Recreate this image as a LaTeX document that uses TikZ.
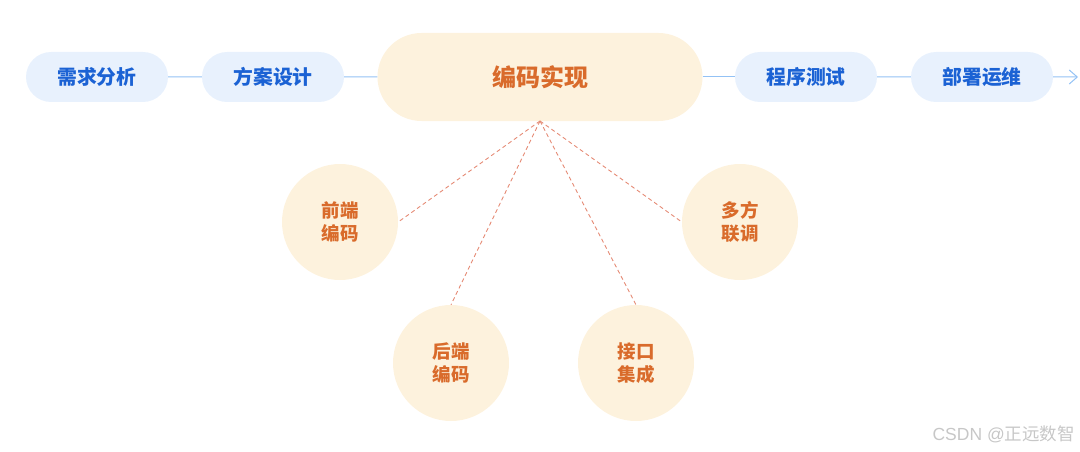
\documentclass[tikz,border=0pt]{standalone}
\usepackage{fontspec}
\newfontfamily\cjk{Noto Sans CJK SC}
\newfontfamily\wmfont{Liberation Sans}
\usetikzlibrary{arrows.meta,shapes.misc}
\definecolor{pillblue}{HTML}{E8F1FD}
\definecolor{textblue}{HTML}{1B62D4}
\definecolor{lineblue}{HTML}{93C2F5}
\definecolor{cream}{HTML}{FDF2DD}
\definecolor{textorange}{HTML}{D96B2B}
\definecolor{dashred}{HTML}{E58A74}
\tikzset{
  pill/.style={rounded rectangle, fill=pillblue, draw=none, minimum width=142pt, minimum height=50pt, inner sep=0pt,
    font=\cjk\bfseries\fontsize{19.8}{22}\selectfont, text=textblue},
  bigpill/.style={fill=cream, draw=none, rounded corners=44pt, minimum width=325pt, minimum height=88pt, inner sep=0pt,
    font=\cjk\bfseries\fontsize{24}{26}\selectfont, text=textorange},
  sub/.style={circle, fill=cream, draw=none, minimum size=116pt, inner sep=0pt, align=center,
    font=\cjk\bfseries\fontsize{18.5}{23}\selectfont, text=textorange},
  flow/.style={draw=lineblue, line width=1pt},
  spoke/.style={draw=dashred, line width=0.9pt, dash pattern=on 4pt off 3pt}
}
\begin{document}
\begin{tikzpicture}[x=1pt,y=-1pt]
\useasboundingbox (0,0) rectangle (1080,452);
\node[pill] (a) at (97,77) {需求分析};
\node[pill] (b) at (273,77) {方案设计};
\node[bigpill] (c) at (540,77) {编码实现};
\node[pill] (d) at (806,77) {程序测试};
\node[pill] (e) at (982,77) {部署运维};
\coordinate (end) at (1078,77);
\draw[flow] (a) -- (b);
\draw[flow] (b) -- (c);
\draw[flow] (c) -- (d);
\draw[flow] (d) -- (e);
\draw[flow, -{Straight Barb[length=8pt,width=14pt]}] (e) -- (end);
\node[sub] (f1) at (340,222) {前端\\编码};
\node[sub] (f2) at (451,363) {后端\\编码};
\node[sub] (f3) at (636,363) {接口\\集成};
\node[sub] (f4) at (740,222) {多方\\联调};
\coordinate (apex) at (540,121);
\draw[spoke] (apex) -- (f1.east);
\draw[spoke] (apex) -- (f2.north);
\draw[spoke] (apex) -- (f3.north);
\draw[spoke] (apex) -- (f4.west);
\node[font=\fontsize{17.5}{20}\selectfont, text=black!22, anchor=east, inner sep=0pt] (wm) at (1075,434) {\wmfont CSDN @\cjk 正远数智};
\end{tikzpicture}
\end{document}
